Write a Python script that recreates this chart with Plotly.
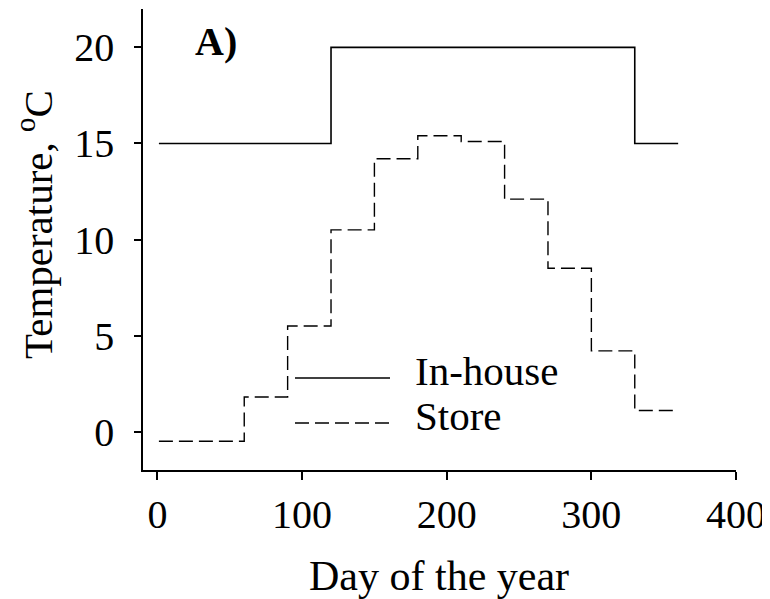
import plotly.graph_objects as go

# Data
inhouse_day = [1, 120, 330, 360]
inhouse_temp = [15, 20, 15, 15]
store_day = [1, 60, 90, 120, 150, 180, 210, 240, 270, 300, 330, 360]
store_temp = [-0.5, 1.8, 5.5, 10.5, 14.2, 15.4, 15.1, 12.1, 8.5, 4.2, 1.1, 1.1]
x_ticks = [0, 100, 200, 300, 400]
y_ticks = [0, 5, 10, 15, 20]

FONT = "Liberation Serif, Times New Roman, serif"

W, H = 770, 599
OFF = 8  # page body margin
# target plot area in screen pixels
SX0, SX1, SY0, SY1 = 143, 736, 9, 470
L = SX0 - OFF
T = SY0 - OFF
R = W - (SX1 - OFF)
B = H - (SY1 - OFF)
pw, ph = SX1 - SX0, SY1 - SY0

def px(xs):
    return (xs - SX0) / pw

def py(ys):
    return (SY1 - ys) / ph

fig = go.Figure()
fig.add_trace(go.Scatter(x=inhouse_day, y=inhouse_temp, mode="lines", line_shape="hv",
                         line=dict(color="black", width=1.6), name="In-house", showlegend=False))
fig.add_trace(go.Scatter(x=store_day, y=store_temp, mode="lines", line_shape="hv",
                         line=dict(color="black", width=1.4, dash="14px,6px"), name="Store", showlegend=False))

# manual legend
fig.add_shape(type="line", xref="paper", yref="paper", x0=px(295), x1=px(390), y0=py(378), y1=py(378),
              line=dict(color="black", width=1.4))
fig.add_shape(type="line", xref="paper", yref="paper", x0=px(295), x1=px(390), y0=py(423), y1=py(423),
              line=dict(color="black", width=1.4, dash="14px,6px"))
fig.add_annotation(text="In-house", xref="paper", yref="paper", x=px(413), y=py(371), xanchor="left",
                   yanchor="middle", showarrow=False, font=dict(family=FONT, size=41, color="black"))
fig.add_annotation(text="Store", xref="paper", yref="paper", x=px(413), y=py(416), xanchor="left",
                   yanchor="middle", showarrow=False, font=dict(family=FONT, size=41, color="black"))
fig.add_annotation(text="<b>A)</b>", xref="paper", yref="paper", x=px(193), y=py(42), xanchor="left",
                   yanchor="middle", showarrow=False, font=dict(family=FONT, size=40, color="black"))
fig.add_annotation(text="Temperature, <sup>o</sup>C", xref="paper", yref="paper", x=px(35), y=py(225),
                   xanchor="center", yanchor="middle", textangle=-90, showarrow=False,
                   font=dict(family=FONT, size=41, color="black"))
fig.add_annotation(text="Day of the year", xref="paper", yref="paper", x=px(439), y=py(576),
                   xanchor="center", yanchor="middle", showarrow=False,
                   font=dict(family=FONT, size=42, color="black"))

fig.update_layout(
    width=W, height=H,
    margin=dict(l=L, r=R, t=T, b=B),
    paper_bgcolor="white", plot_bgcolor="white",
    font=dict(family=FONT, size=40, color="black"),
    xaxis=dict(range=[-10, 400], tickvals=x_ticks, showgrid=False, zeroline=False,
               showline=True, linecolor="black", linewidth=1.6, ticks="outside", ticklen=8,
               tickwidth=1.6, tickcolor="black", ticklabelstandoff=0,
               tickfont=dict(family=FONT, size=40, color="black")),
    yaxis=dict(range=[-2, 22], tickvals=y_ticks, showgrid=False, zeroline=False,
               showline=True, linecolor="black", linewidth=1.6, ticks="outside", ticklen=7,
               tickwidth=1.6, tickcolor="black", ticklabelstandoff=12,
               tickfont=dict(family=FONT, size=40, color="black")),
)

fig.write_html("out.html")
